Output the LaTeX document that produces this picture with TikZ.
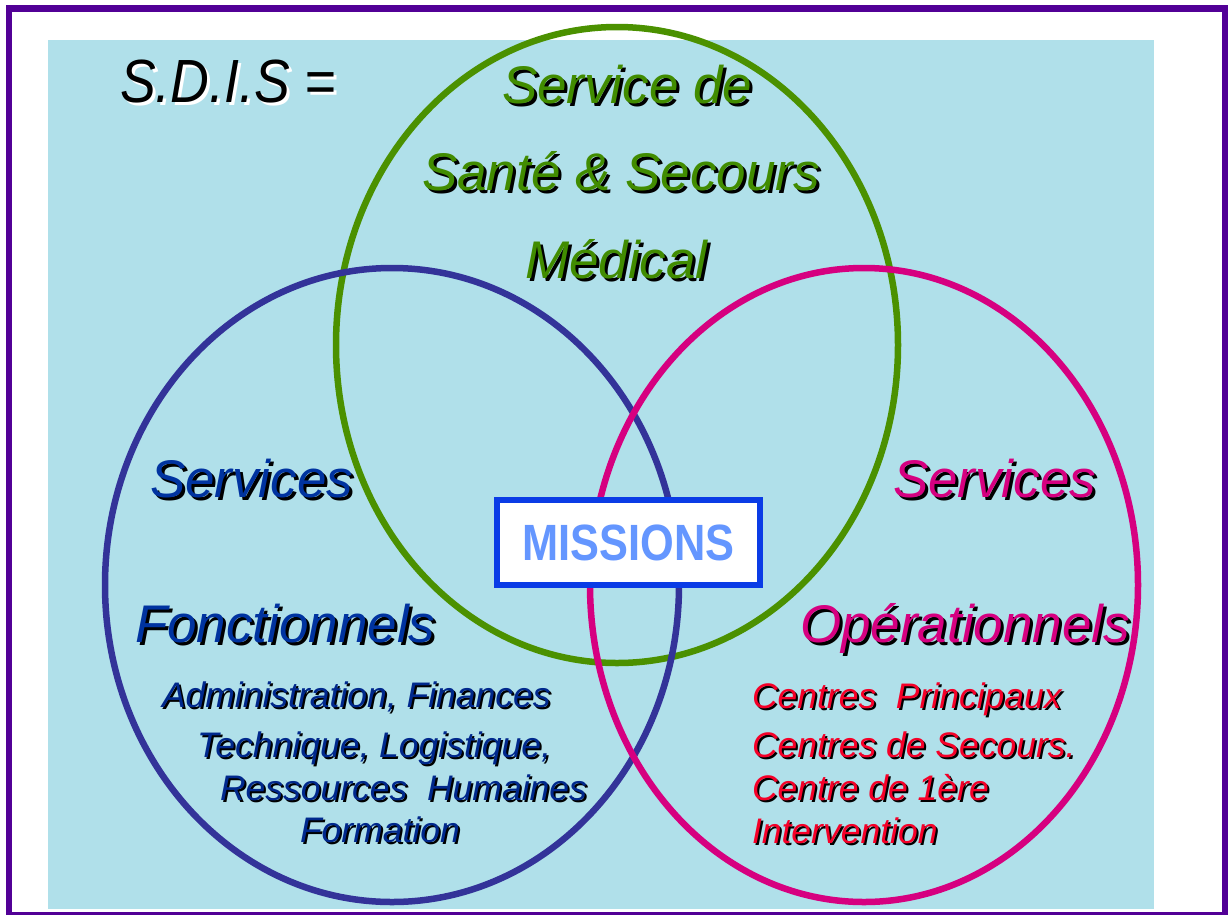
\documentclass[tikz,border=0pt]{standalone}
\usepackage{fontspec}
\setmainfont{Liberation Sans}
\definecolor{framepurple}{RGB}{82,0,150}
\definecolor{bgcyan}{RGB}{176,224,234}
\definecolor{ellgreen}{RGB}{75,145,0}
\definecolor{txtgreen}{RGB}{65,140,0}
\definecolor{ellblue}{RGB}{51,51,153}
\definecolor{txtblue}{RGB}{0,51,160}
\definecolor{smallblue}{RGB}{0,40,140}
\definecolor{ellmag}{RGB}{214,0,128}
\definecolor{txtred}{RGB}{245,0,40}
\definecolor{boxblue}{RGB}{10,60,230}
\definecolor{boxtxt}{RGB}{100,150,255}
\newcommand\bigfont{\fontsize{53}{60}\selectfont\itshape}
\newcommand\smallfont{\fontsize{35.5}{40}\selectfont\itshape}
\newcommand\sdisfont{\fontsize{61}{66}\selectfont\itshape}
\newcommand\shadowed[7]{%
  \node[txt,text=#5] (#1-sh) at (#2+#6,#3+#6) {#7};
  \node[txt,text=#4] (#1) at (#2,#3) {#7};}
\begin{document}
\begin{tikzpicture}[x=1pt,y=-1pt,
  txt/.style={inner sep=0pt,outer sep=0pt,anchor=base west},
  ring/.style={line width=6.5pt},
  missionbox/.style={draw=boxblue,line width=6pt,fill=white,minimum width=263pt,minimum height=85pt,inner sep=0pt,
    font=\fontsize{51}{56}\selectfont\bfseries,text=boxtxt}]
\useasboundingbox (0,0) rectangle (1232,914);
\clip (0,0) rectangle (1232,914);
\fill[white] (0,0) rectangle (1232,914);
% background
\fill[bgcyan] (48,40) rectangle (1154,909);
% frame
\draw[framepurple,line width=6.5pt] (9,8.5) rectangle (1225,915);
% ellipses
\draw[ring,ellgreen] (617,345) ellipse [x radius=281, y radius=318];
\draw[ring,ellblue] (392,585) ellipse [x radius=287, y radius=317];
\draw[ring,ellmag] (864,585) ellipse [x radius=274, y radius=317];
% title
\shadowed{sdis}{120}{102}{black}{white}{3}{\sdisfont\scalebox{0.88}[1]{S.D.I.S =}}
% green
\shadowed{g1}{502}{103}{txtgreen}{black}{3}{\bigfont Service de}
\shadowed{g2}{422}{190}{txtgreen}{black}{3}{\bigfont Santé \& Secours}
\shadowed{g3}{525}{278}{txtgreen}{black}{3}{\bigfont Médical}
% blue
\shadowed{b1}{150}{497}{txtblue}{black}{3}{\bigfont Services}
\shadowed{b2}{135}{642}{txtblue}{black}{3}{\bigfont Fonctionnels}
\shadowed{b3}{162}{707}{smallblue}{black}{2}{\smallfont Administration, Finances}
\shadowed{b4}{197}{757}{smallblue}{black}{2}{\smallfont Technique, Logistique,}
\shadowed{b5}{220}{800}{smallblue}{black}{2}{\smallfont Ressources\ \ Humaines}
\shadowed{b6}{300}{842}{smallblue}{black}{2}{\smallfont Formation}
% magenta
\shadowed{m1}{893}{497}{ellmag}{black}{3}{\bigfont Services}
\shadowed{m2}{800}{642}{ellmag}{black}{3}{\bigfont Opérationnels}
\shadowed{r1}{752}{708}{txtred}{black}{2}{\smallfont Centres\ \ Principaux}
\shadowed{r2}{752}{757}{txtred}{black}{2}{\smallfont Centres de Secours.}
\shadowed{r3}{752}{800}{txtred}{black}{2}{\smallfont Centre de 1ère}
\shadowed{r4}{752}{843}{txtred}{black}{2}{\smallfont Intervention}
% missions
\node[missionbox] (missions) at (628.5,542.5) {\scalebox{0.85}[1]{MISSIONS}};
\end{tikzpicture}
\end{document}
